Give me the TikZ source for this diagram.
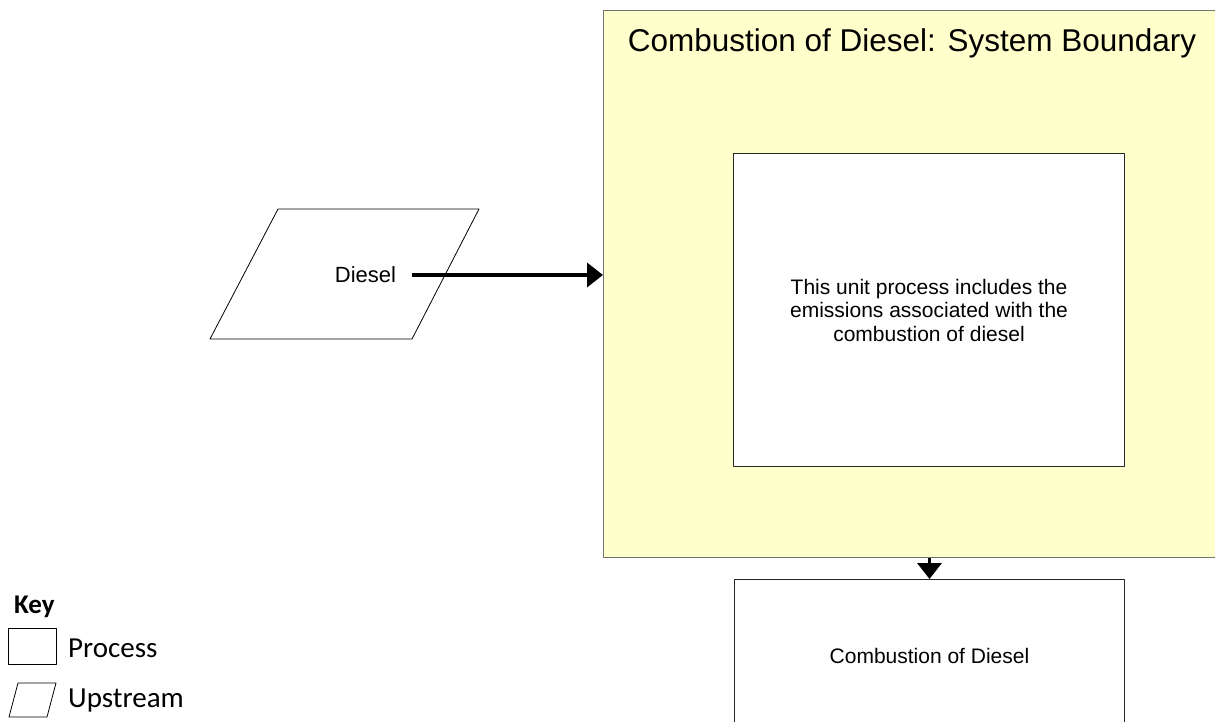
\documentclass[tikz,border=0pt]{standalone}
\usepackage{fontspec}
\setmainfont{Liberation Sans}
\newfontfamily\keyfont{Carlito}
\usetikzlibrary{arrows.meta,positioning}
\definecolor{boundyellow}{RGB}{255,255,204}
\begin{document}
\begin{tikzpicture}[x=1pt,y=-1pt,line join=round,>={Triangle[length=16pt,width=24pt]},
    box/.style={draw=black!85,fill=white,line width=1pt,inner sep=0pt,align=center,font=\fontsize{21}{23.5}\selectfont},
    flow/.style={->,line width=3.5pt},
    keytext/.style={font=\keyfont\fontsize{29}{30}\selectfont,anchor=west,inner sep=0pt}]
    \useasboundingbox (0,0) rectangle (1215,721);
    % system boundary
    \node[draw=black!55,fill=boundyellow,line width=1.2pt,minimum width=630pt,minimum height=547pt,
        inner sep=0pt,anchor=north west] (boundary) at (603,10) {};
    \node[font=\fontsize{31.5}{34}\selectfont] (title) at (912,43) {Combustion of Diesel: System Boundary};
    \node[box,minimum width=391pt,minimum height=313pt,anchor=north west] (unit) at (733,153)
        {This unit process includes the\\emissions associated with the\\combustion of diesel};
    \node[box,minimum width=390pt,minimum height=152pt,anchor=north west] (combust) at (734,579)
        {Combustion of Diesel};
    % upstream input
    \draw[line width=0.8pt] (278,209) -- (479,209) -- (412,339) -- (210,339) -- cycle;
    \node[font=\fontsize{22}{24}\selectfont,inner xsep=16pt] (diesel) at (365.5,275) {Diesel};
    \draw[flow] (diesel.east) -- (diesel.east -| boundary.west);
    \draw[flow] (combust.north |- boundary.south) -- (combust.north);
    % key
    \node[font=\keyfont\bfseries\fontsize{27}{28}\selectfont,anchor=west,inner sep=0pt] (key) at (14,607) {Key};
    \draw[line width=0.8pt] (8,628) rectangle (56,664);
    \node[keytext] (proclabel) at (68,648) {Process};
    \draw[line width=0.8pt] (18,683) -- (56,683) -- (47,717) -- (9,717) -- cycle;
    \node[keytext] (upstlabel) at (68,701) {Upstream};
\end{tikzpicture}
\end{document}
